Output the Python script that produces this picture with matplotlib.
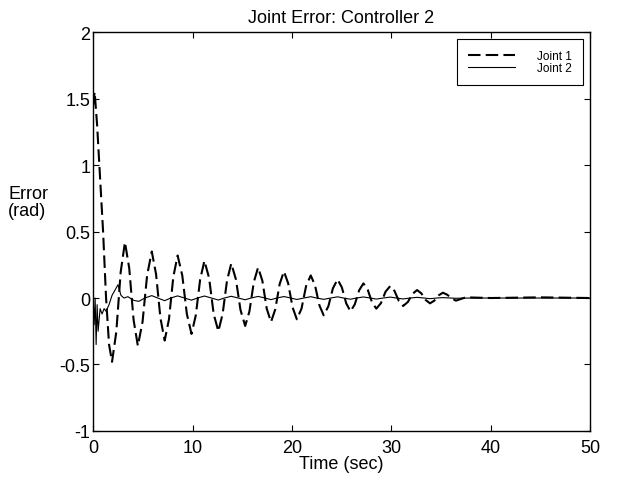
import matplotlib
matplotlib.use('Agg')
import matplotlib.pyplot as plt

plt.rcParams['font.family'] = ['Liberation Sans', 'DejaVu Sans']

# Joint 1 (dashed)
t1 = [0.0, 0.15, 0.4, 0.7, 1.0, 1.3, 1.6, 1.9, 2.33, 2.77,
      3.2, 3.63, 4.07, 4.5, 4.97, 5.43, 5.9, 6.33, 6.77, 7.2,
      7.63, 8.07, 8.5, 8.97, 9.43, 9.9, 10.33, 10.77, 11.2, 11.67,
      12.13, 12.6, 13.03, 13.47, 13.9, 14.37, 14.83, 15.3, 15.73, 16.17,
      16.6, 17.03, 17.47, 17.9, 18.33, 18.77, 19.2, 19.63, 20.07, 20.5,
      20.97, 21.43, 21.9, 22.33, 22.77, 23.2, 23.67, 24.13, 24.6, 25.03,
      25.47, 25.9, 26.33, 26.77, 27.2, 27.63, 28.07, 28.5, 28.97, 29.43,
      29.9, 30.33, 30.77, 31.2, 31.67, 32.13, 32.6, 33.03, 33.47, 33.9,
      34.33, 34.77, 35.2, 35.63, 36.07, 36.5, 37.5, 40.0, 45.0, 50.0]
e1 = [1.45, 1.55, 1.3, 0.9, 0.5, 0.0, -0.35, -0.48, -0.255, 0.195,
      0.42, 0.225, -0.165, -0.36, -0.18, 0.17, 0.35, 0.18, -0.15, -0.32,
      -0.16, 0.16, 0.32, 0.17, -0.12, -0.27, -0.13, 0.14, 0.28, 0.15,
      -0.12, -0.25, -0.12, 0.13, 0.26, 0.14, -0.09, -0.21, -0.10, 0.12,
      0.23, 0.13, -0.08, -0.18, -0.085, 0.105, 0.20, 0.11, -0.07, -0.16,
      -0.08, 0.09, 0.17, 0.095, -0.055, -0.13, -0.063, 0.073, 0.14, 0.08,
      -0.04, -0.10, -0.048, 0.058, 0.11, 0.063, -0.033, -0.08, -0.038, 0.048,
      0.09, 0.053, -0.023, -0.06, -0.03, 0.03, 0.06, 0.035, -0.015, -0.04,
      -0.02, 0.02, 0.04, 0.025, 0.0, -0.02, 0.005, 0.0, 0.005, 0.0]

# Joint 2 (solid)
t2 = [0.0, 0.1, 0.2, 0.3, 0.4, 0.5, 0.7, 0.9, 1.1, 1.3,
      1.6, 1.9, 2.2, 2.5, 2.8, 3.1, 3.5, 4.1, 4.6, 5.2,
      5.9, 6.5, 7.2, 7.8, 8.5, 9.2, 9.9, 10.5, 11.2, 11.9,
      12.6, 13.2, 13.9, 14.6, 15.3, 15.9, 16.6, 17.3, 17.9, 18.5,
      19.2, 19.9, 20.5, 21.2, 21.9, 22.5, 23.2, 23.9, 24.6, 25.2,
      25.9, 26.5, 27.2, 27.9, 28.5, 29.2, 29.9, 30.5, 31.2, 31.9,
      32.6, 33.3, 33.9, 34.6, 35.2, 36.5, 38.0, 50.0]
e2 = [0.0, -0.2, 0.0, -0.35, -0.05, -0.25, -0.08, -0.12, -0.08, -0.1,
      -0.05, 0.02, 0.06, 0.1, 0.02, 0.0, 0.01, -0.018, -0.025, 0.0,
      0.018, 0.0, -0.02, 0.0, 0.016, 0.0, -0.016, 0.0, 0.015, 0.0,
      -0.015, 0.0, 0.013, 0.0, -0.013, 0.0, 0.012, 0.0, -0.012, 0.0,
      0.011, 0.0, -0.011, 0.0, 0.01, 0.0, -0.01, 0.0, 0.009, 0.0,
      -0.009, 0.0, 0.008, 0.0, -0.008, 0.0, 0.007, 0.0, -0.007, 0.0,
      0.005, 0.0, -0.005, 0.0, 0.003, -0.002, 0.0, 0.0]

xticks = [0, 10, 20, 30, 40, 50]
yticks = [-1, -0.5, 0, 0.5, 1, 1.5, 2]
ytick_labels = ['-1', '-0.5', '0', '0.5', '1', '1.5', '2']

fig = plt.figure(figsize=(6.21, 4.81), dpi=100)
ax = fig.add_axes([0.150, 0.102, 0.800, 0.829])

ax.plot(t1, e1, color='black', lw=1.5, dashes=(6, 2.5), label='Joint 1')
ax.plot(t2, e2, color='black', lw=0.8, label='Joint 2')

ax.set_xlim(0, 50)
ax.set_ylim(-1, 2)
ax.set_xticks(xticks)
ax.set_xticklabels([str(v) for v in xticks])
ax.set_yticks(yticks)
ax.set_yticklabels(ytick_labels)
ax.tick_params(direction='in', top=True, right=True, length=4,
               labelsize=13, width=0.8)
ax.tick_params(axis='y', pad=2)
ax.tick_params(axis='x', pad=6)
for s in ax.spines.values():
    s.set_linewidth(1.0)

ax.set_title('Joint Error: Controller 2', fontsize=13, pad=7)
ax.set_xlabel('Time (sec)', fontsize=13, labelpad=-1)
ax.text(-0.171, 0.574, 'Error\n(rad)', transform=ax.transAxes,
        fontsize=13, ha='left', va='center', linespacing=1.05)

leg = ax.legend(loc='upper right', fontsize=8.5, fancybox=False,
                framealpha=1, edgecolor='black', handlelength=4.0,
                handletextpad=1.9, borderpad=0.9, labelspacing=0.05,
                borderaxespad=0.6)
leg.get_frame().set_linewidth(0.8)

plt.savefig('out.png', dpi=100)
